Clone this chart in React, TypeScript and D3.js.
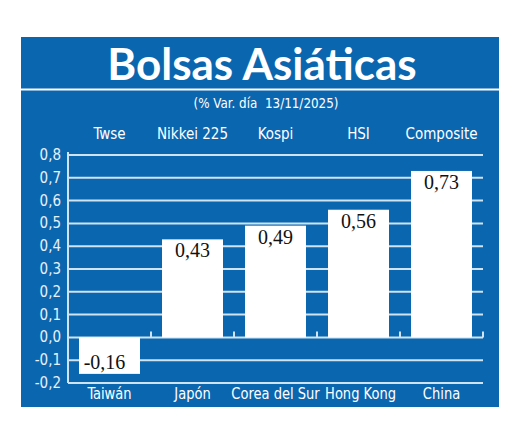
import { useEffect, useRef } from "react"
import * as d3 from "d3"

const countries = ["Taiwán", "Japón", "Corea del Sur", "Hong Kong", "China"]
const indices = ["Twse", "Nikkei 225", "Kospi", "HSI", "Composite"]
const changes = [-0.16, 0.43, 0.49, 0.56, 0.73]
const yTicks = [-0.2, -0.1, 0, 0.1, 0.2, 0.3, 0.4, 0.5, 0.6, 0.7, 0.8]

const BLUE = "#0b66b0"
const GRID = "#cfe3f3"
const NARROW = "'Liberation Sans Narrow', 'DejaVu Sans Condensed', sans-serif"

export default function App() {
  const svgRef = useRef<SVGSVGElement | null>(null)

  useEffect(() => {
    if (!svgRef.current) return
    const svg = d3.select(svgRef.current)
    svg.selectAll("*").remove()

    // Blue panel
    svg.append("rect").attr("x", 21).attr("y", 37).attr("width", 478).attr("height", 370).attr("fill", BLUE)

    // Title
    svg
      .append("text")
      .attr("x", 262)
      .attr("y", 80)
      .attr("text-anchor", "middle")
      .attr("font-family", "Lato, 'Open Sans', sans-serif")
      .attr("font-weight", "bold")
      .attr("font-size", 44)
      .attr("fill", "#fff")
      .text("Bolsas Asiáticas")

    svg.append("line").attr("x1", 21).attr("x2", 499).attr("y1", 89.5).attr("y2", 89.5).attr("stroke", "#fff").attr("stroke-width", 2)

    svg
      .append("text")
      .attr("transform", "translate(266,108) scale(0.95,1)")
      .attr("text-anchor", "middle")
      .attr("font-family", NARROW)
      .attr("font-size", 14)
      .attr("fill", "#fff")
      .style("white-space", "pre")
      .text("(% Var. día  13/11/2025)")

    // Scales
    const x = d3.scaleBand<string>().domain(countries).range([68, 483]).paddingInner(0.265).paddingOuter(0.1325)
    const y = d3.scaleLinear().domain([-0.2, 0.8]).range([383, 155])
    const fmt = (v: number) => d3.format(".1f")(v).replace(".", ",").replace("−", "-")

    // Grid lines
    svg
      .append("g")
      .selectAll("line")
      .data(yTicks)
      .enter()
      .append("line")
      .attr("x1", 68)
      .attr("x2", 483)
      .attr("y1", (d) => y(d))
      .attr("y2", (d) => y(d))
      .attr("stroke", GRID)
      .attr("stroke-width", 2)

    // Left axis line
    svg.append("line").attr("x1", 68).attr("x2", 68).attr("y1", y(0.8) - 3).attr("y2", y(-0.2)).attr("stroke", GRID).attr("stroke-width", 2)

    // Tick labels
    svg
      .append("g")
      .selectAll("text")
      .data(yTicks)
      .enter()
      .append("text")
      .attr("x", 61)
      .attr("y", (d) => y(d) + 5)
      .attr("text-anchor", "end")
      .attr("font-family", NARROW)
      .attr("font-size", 15)
      .attr("fill", "#e8f1f9")
      .text((d) => fmt(d))

    // Small ticks on zero line at band boundaries
    svg
      .append("g")
      .selectAll("line")
      .data(countries)
      .enter()
      .append("line")
      .attr("x1", (d) => (x(d) as number) + x.bandwidth() + x.step() * 0.1325)
      .attr("x2", (d) => (x(d) as number) + x.bandwidth() + x.step() * 0.1325)
      .attr("y1", y(0))
      .attr("y2", y(0) - 6)
      .attr("stroke", GRID)
      .attr("stroke-width", 2)

    // Bars
    svg
      .append("g")
      .selectAll("rect")
      .data(changes)
      .enter()
      .append("rect")
      .attr("x", (d, i) => x(countries[i]) as number)
      .attr("y", (d) => y(Math.max(0, d)))
      .attr("width", x.bandwidth())
      .attr("height", (d) => Math.abs(y(d) - y(0)))
      .attr("fill", "#fff")

    // Value labels
    svg
      .append("g")
      .selectAll("text")
      .data(changes)
      .enter()
      .append("text")
      .attr("x", (d, i) => (x(countries[i]) as number) + x.bandwidth() / 2 + (d < 0 ? -5 : 0))
      .attr("y", (d) => (d < 0 ? y(d) - 5 : y(d) + 18))
      .attr("text-anchor", "middle")
      .attr("font-family", "'Liberation Serif', 'DejaVu Serif', serif")
      .attr("font-size", 20)
      .attr("fill", "#111")
      .text((d) => d.toFixed(2).replace(".", ","))

    // Index labels (top)
    svg
      .append("g")
      .selectAll("text")
      .data(indices)
      .enter()
      .append("text")
      .attr("x", (d, i) => (x(countries[i]) as number) + x.bandwidth() / 2)
      .attr("y", 139)
      .attr("text-anchor", "middle")
      .attr("font-family", NARROW)
      .attr("font-size", 15)
      .attr("fill", "#fff")
      .text((d) => d)

    // Country labels (bottom), squeezed to match the condensed face
    svg
      .append("g")
      .selectAll("text")
      .data(countries)
      .enter()
      .append("text")
      .attr("transform", (d) => `translate(${(x(d) as number) + x.bandwidth() / 2 + (d === "Hong Kong" ? 2 : 0)},399) scale(0.88,1)`)
      .attr("text-anchor", "middle")
      .attr("font-family", NARROW)
      .attr("font-size", 16.5)
      .attr("fill", "#fff")
      .text((d) => d)
  }, [])

  return (
    <svg
      ref={svgRef}
      width={520}
      height={438}
      style={{ position: "absolute", left: 0, top: 0, background: "#fff" }}
    ></svg>
  )
}
